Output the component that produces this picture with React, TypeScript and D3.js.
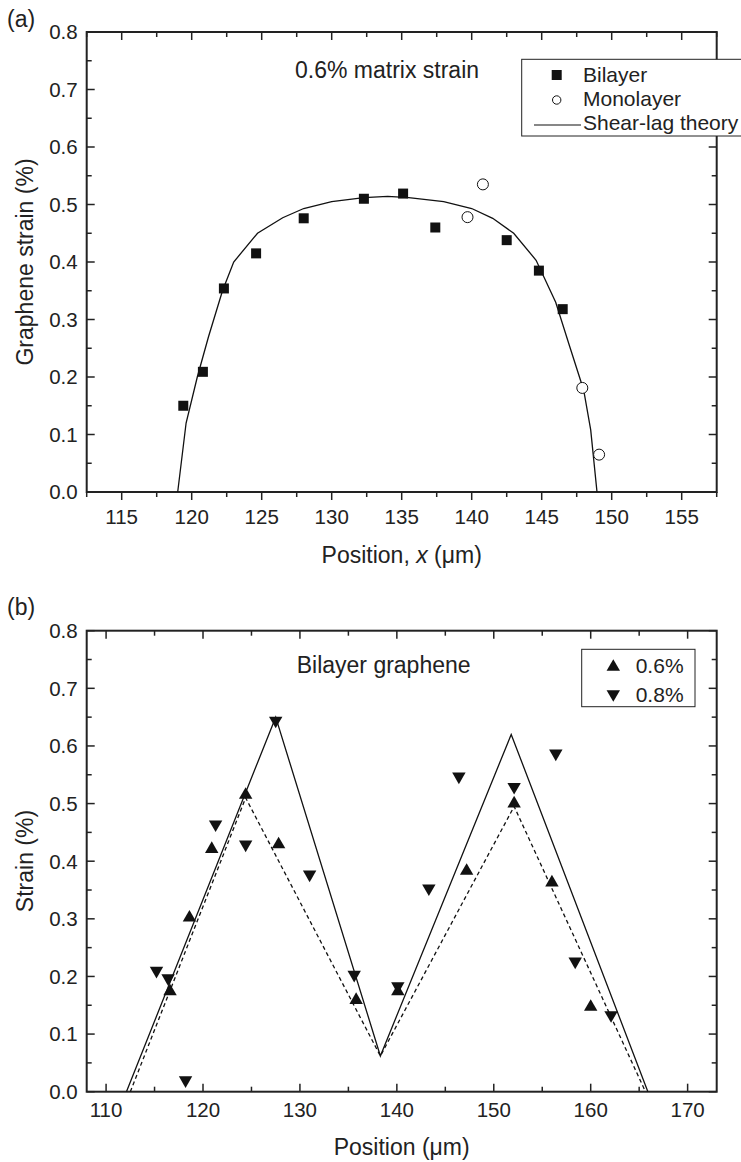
import * as d3 from 'd3';

const FONT = '"Liberation Sans", Arial, Helvetica, sans-serif';

// panel (a): 0.6% matrix strain
const bilayerX = [119.4, 120.8, 122.3, 124.6, 128.0, 132.3, 135.1, 137.4, 142.5, 144.8, 146.5];
const bilayerY = [0.150, 0.209, 0.354, 0.415, 0.476, 0.510, 0.519, 0.460, 0.438, 0.385, 0.318];
const monoX = [139.7, 140.8, 147.9, 149.1];
const monoY = [0.478, 0.535, 0.181, 0.065];
const shearX = [119.0, 119.6, 120.4, 121.2, 122.2, 123.0, 124.7, 126.5, 128.0, 130.0, 132.3, 134.0, 135.5, 138.0, 140.0, 141.5, 143.0, 144.6, 146.0, 147.0, 148.0, 148.5, 148.95];
const shearY = [0, 0.12, 0.20, 0.27, 0.35, 0.40, 0.45, 0.477, 0.493, 0.505, 0.512, 0.514, 0.512, 0.505, 0.493, 0.476, 0.450, 0.403, 0.330, 0.253, 0.177, 0.108, 0];
const aXTicks = [115, 120, 125, 130, 135, 140, 145, 150, 155];
const aXMinor = [112.5, 117.5, 122.5, 127.5, 132.5, 137.5, 142.5, 147.5, 152.5, 157.5];

// panel (b): bilayer graphene
const s06X = [116.6, 118.6, 120.9, 124.4, 127.8, 135.8, 140.1, 147.2, 152.1, 156.0, 160.0];
const s06Y = [0.174, 0.302, 0.421, 0.515, 0.429, 0.159, 0.174, 0.383, 0.500, 0.363, 0.147];
const s08X = [115.2, 116.4, 118.2, 121.3, 124.4, 127.5, 131.0, 135.6, 140.1, 143.3, 146.4, 152.1, 156.4, 158.4, 162.1];
const s08Y = [0.210, 0.197, 0.020, 0.464, 0.429, 0.644, 0.377, 0.203, 0.183, 0.353, 0.547, 0.529, 0.587, 0.226, 0.133];
const fit08X = [112.1, 127.5, 138.3, 151.8, 165.9];
const fit08Y = [0, 0.650, 0.062, 0.620, 0];
const fit06X = [112.5, 124.4, 138.3, 152.1, 165.65];
const fit06Y = [0, 0.510, 0.062, 0.495, 0];
const bXTicks = [110, 120, 130, 140, 150, 160, 170];
const bXMinor = [115, 125, 135, 145, 155, 165];

const yTicks = [0, 0.1, 0.2, 0.3, 0.4, 0.5, 0.6, 0.7, 0.8];
const yMinor = [0.05, 0.15, 0.25, 0.35, 0.45, 0.55, 0.65, 0.75];

type Scale = d3.ScaleLinear<number, number>;

const Frame = ({ x, y, xTicks, xMinor, bottomOut }: { x: Scale; y: Scale; xTicks: number[]; xMinor: number[]; bottomOut: boolean }) => {
  const [x0, x1] = x.range();
  const [y0, y1] = y.range(); // y0 bottom, y1 top
  const maj = 8;
  const min = 5;
  const dir = bottomOut ? 1 : -1;
  const fmt = d3.format('.1f');
  return (
    <g stroke="#222" fill="none">
      {xTicks.map(t => (
        <g key={'x' + t}>
          <line x1={x(t)} x2={x(t)} y1={y1} y2={y1 + maj} strokeWidth={1.5} />
          <line x1={x(t)} x2={x(t)} y1={y0} y2={y0 + dir * maj} strokeWidth={1.5} />
          <text x={x(t)} y={y0 + (bottomOut ? 32 : 25)} textAnchor="middle" fontSize={20.5} fill="#222" stroke="none">{t}</text>
        </g>
      ))}
      {xMinor.map(t => (
        <g key={'xm' + t}>
          <line x1={x(t)} x2={x(t)} y1={y1} y2={y1 + min} strokeWidth={1.5} />
          <line x1={x(t)} x2={x(t)} y1={y0} y2={y0 + dir * min} strokeWidth={1.5} />
        </g>
      ))}
      {yTicks.map(t => (
        <g key={'y' + t}>
          <line x1={x0} x2={x0 + maj} y1={y(t)} y2={y(t)} strokeWidth={1.5} />
          <line x1={x1} x2={x1 - maj} y1={y(t)} y2={y(t)} strokeWidth={1.5} />
          <text x={x0 - 9} y={y(t)} dy="0.36em" textAnchor="end" fontSize={20.5} fill="#222" stroke="none">{fmt(t)}</text>
        </g>
      ))}
      {yMinor.map(t => (
        <g key={'ym' + t}>
          <line x1={x0} x2={x0 + min} y1={y(t)} y2={y(t)} strokeWidth={1.5} />
          <line x1={x1} x2={x1 - min} y1={y(t)} y2={y(t)} strokeWidth={1.5} />
        </g>
      ))}
      <rect x={x0} y={y1} width={x1 - x0} height={y0 - y1} strokeWidth={2} />
    </g>
  );
};

const tri = d3.symbol(d3.symbolTriangle, 78)()!;

export default function App() {
  // panel (a)
  const xa = d3.scaleLinear().domain([112.5, 157.5]).range([86.7, 716.7]);
  const ya = d3.scaleLinear().domain([0, 0.8]).range([492, 32]);
  const shearLine = d3.line<number>().x((_, i) => xa(shearX[i])).y((_, i) => ya(shearY[i]));

  // panel (b)
  const xb = d3.scaleLinear().domain([108, 173]).range([86.7, 716.7]);
  const yb = d3.scaleLinear().domain([0, 0.8]).range([1091.7, 630.7]);
  const line08 = d3.line<number>().x((_, i) => xb(fit08X[i])).y((_, i) => yb(fit08Y[i]));
  const line06 = d3.line<number>().x((_, i) => xb(fit06X[i])).y((_, i) => yb(fit06Y[i]));

  return (
    <svg width={741} height={1162} style={{ position: 'absolute', left: 0, top: 0, background: '#fff' }} fontFamily={FONT}>
      <rect width={741} height={1162} fill="#fff" />

      {/* ---------- (a) ---------- */}
      <text x={7} y={27} fontSize={23} fill="#222">(a)</text>
      <Frame x={xa} y={ya} xTicks={aXTicks} xMinor={aXMinor} bottomOut={true} />
      <path d={shearLine(shearX) ?? ''} fill="none" stroke="#111" strokeWidth={1.3} />
      {bilayerX.map((v, i) => (
        <rect key={'b' + i} x={xa(v) - 5} y={ya(bilayerY[i]) - 5} width={10} height={10} fill="#111" />
      ))}
      {monoX.map((v, i) => (
        <circle key={'m' + i} cx={xa(v)} cy={ya(monoY[i])} r={5.5} fill="#fff" stroke="#111" strokeWidth={1} />
      ))}
      <text x={295} y={78} fontSize={23} fill="#222">0.6% matrix strain</text>
      <g>
        <rect x={521.7} y={59.3} width={230} height={76.7} fill="#fff" stroke="#222" strokeWidth={1} />
        <rect x={551.7} y={70} width={10} height={10} fill="#111" />
        <text x={583} y={82} fontSize={21} fill="#222">Bilayer</text>
        <circle cx={556.7} cy={100} r={4.2} fill="#fff" stroke="#111" strokeWidth={1} />
        <text x={583} y={106} fontSize={21} fill="#222">Monolayer</text>
        <line x1={534} x2={581} y1={125} y2={125} stroke="#111" strokeWidth={1.2} />
        <text x={583} y={130} fontSize={21} fill="#222">Shear-lag theory</text>
      </g>
      <text transform="translate(33,262) rotate(-90)" textAnchor="middle" fontSize={23} fill="#222">Graphene strain (%)</text>
      <text x={401.7} y={563} textAnchor="middle" fontSize={23} fill="#222">
        Position, <tspan fontStyle="italic">x</tspan> (μm)
      </text>

      {/* ---------- (b) ---------- */}
      <text x={7} y={615} fontSize={23} fill="#222">(b)</text>
      <Frame x={xb} y={yb} xTicks={bXTicks} xMinor={bXMinor} bottomOut={false} />
      <path d={line08(fit08X) ?? ''} fill="none" stroke="#111" strokeWidth={1.3} />
      <path d={line06(fit06X) ?? ''} fill="none" stroke="#111" strokeWidth={1.3} strokeDasharray="4,3" />
      {s06X.map((v, i) => (
        <path key={'u' + i} d={tri} transform={`translate(${xb(v)},${yb(s06Y[i])})`} fill="#111" />
      ))}
      {s08X.map((v, i) => (
        <path key={'d' + i} d={tri} transform={`translate(${xb(v)},${yb(s08Y[i])}) rotate(180)`} fill="#111" />
      ))}
      <text x={296.7} y={673.3} fontSize={23} fill="#222">Bilayer graphene</text>
      <g>
        <rect x={581.7} y={649.3} width={113.3} height={57.4} fill="#fff" stroke="#222" strokeWidth={1} />
        <path d={tri} transform="translate(613.3,667)" fill="#111" />
        <text x={635.7} y={673.3} fontSize={21} fill="#222">0.6%</text>
        <path d={tri} transform="translate(613.3,694) rotate(180)" fill="#111" />
        <text x={635.7} y={701.7} fontSize={21} fill="#222">0.8%</text>
      </g>
      <text transform="translate(33,861) rotate(-90)" textAnchor="middle" fontSize={23} fill="#222">Strain (%)</text>
      <text x={401.7} y={1155} textAnchor="middle" fontSize={23} fill="#222">Position (μm)</text>
    </svg>
  );
}
